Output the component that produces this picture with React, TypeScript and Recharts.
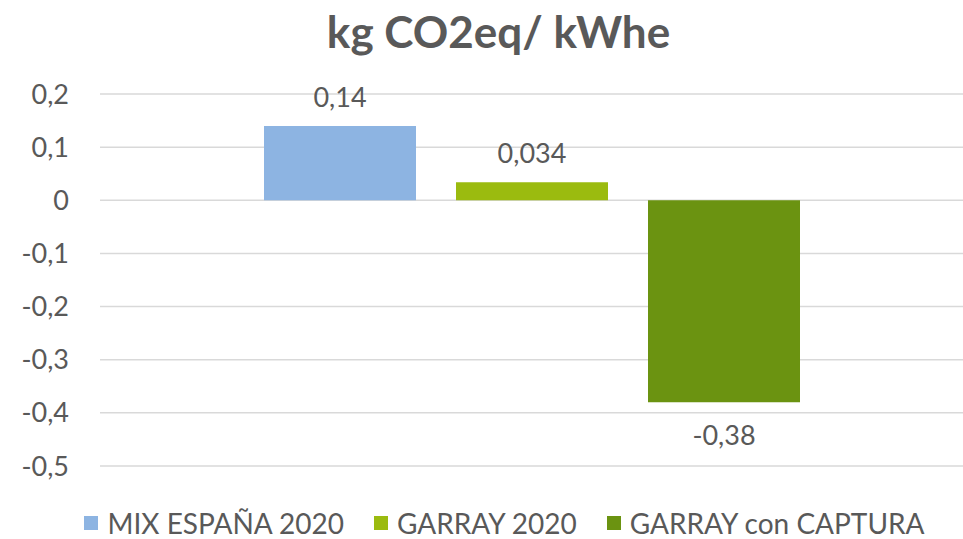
import { BarChart, Bar, XAxis, YAxis, CartesianGrid, LabelList } from 'recharts'

// valores
const categorias = ['kg CO2eq/ kWhe']
const series = ['MIX ESPAÑA 2020', 'GARRAY 2020', 'GARRAY con CAPTURA']
const valores = [0.14, 0.034, -0.38]
const colores = ['#8DB4E2', '#9BBB0F', '#6B9311']
const ticksY = [0.2, 0.1, 0, -0.1, -0.2, -0.3, -0.4, -0.5]

const data = categorias.map((c) => {
  const fila: Record<string, string | number> = { cat: c }
  series.forEach((s, i) => {
    fila[s] = valores[i]
  })
  return fila
})

const fmt = (v: number) => String(v).replace('.', ',')
const FONT = 'Lato, "Open Sans", sans-serif'
const GRIS = '#595959'

export default function App() {
  return (
    <div
      style={{
        position: 'absolute',
        left: 0,
        top: 0,
        width: 963,
        height: 539,
        background: '#fff',
        fontFamily: FONT,
      }}
    >
      <div
        style={{
          position: 'absolute',
          top: 5,
          left: 34,
          right: 0,
          textAlign: 'center',
          fontSize: 44,
          fontWeight: 700,
          color: GRIS,
        }}
      >
        {categorias[0]}
      </div>
      <BarChart
        width={963}
        height={539}
        data={data}
        margin={{ top: 94, right: 0, left: 0, bottom: 73 }}
        barSize={152}
        barGap={40}
      >
        <CartesianGrid vertical={false} stroke="#D9D9D9" strokeWidth={1.5} />
        <XAxis dataKey="cat" hide />
        <YAxis
          width={100}
          domain={[-0.5, 0.2]}
          ticks={ticksY}
          tickFormatter={fmt}
          axisLine={false}
          tickLine={false}
          tickSize={0}
          tickMargin={31}
          tick={{ fontSize: 27, fill: GRIS, fontFamily: FONT }}
        />
        {series.map((s, i) => (
          <Bar key={s} dataKey={s} fill={colores[i]} isAnimationActive={false}>
            <LabelList
              dataKey={s}
              position="top"
              offset={valores[i] >= 0 ? 19 : 24}
              formatter={(v: any) => fmt(Number(v))}
              style={{ fontSize: 27, fill: GRIS, fontFamily: FONT }}
            />
          </Bar>
        ))}
      </BarChart>
      <div
        style={{
          position: 'absolute',
          top: 507,
          left: 46,
          right: 0,
          display: 'flex',
          justifyContent: 'center',
          gap: 30,
          fontSize: 28,
          color: GRIS,
          lineHeight: '32px',
        }}
      >
        {series.map((s, i) => (
          <div key={s} style={{ display: 'flex', alignItems: 'center', gap: 9 }}>
            <span style={{ width: 14, height: 14, background: colores[i], display: 'inline-block' }} />
            <span>{s}</span>
          </div>
        ))}
      </div>
    </div>
  )
}
